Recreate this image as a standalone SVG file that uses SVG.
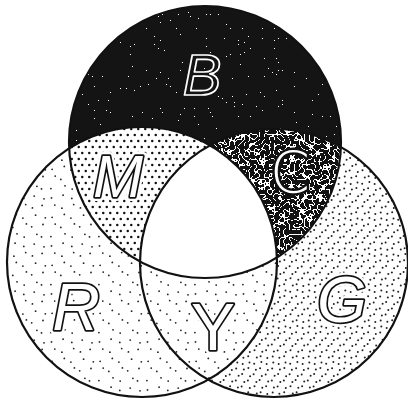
<svg xmlns="http://www.w3.org/2000/svg" width="408" height="403" viewBox="0 0 408 403">
<style>
.edge{fill:none;stroke:#111;stroke-width:2.2}
.lab{font-family:"Liberation Sans",Arial,sans-serif;text-anchor:middle}
.halo{fill:#fff;stroke:#fff;stroke-width:8;stroke-linejoin:round}
.out{fill:#fff;stroke:#111;stroke-width:3.4;stroke-linejoin:round;paint-order:stroke}
.wout{fill:none;stroke:#fff;stroke-width:1.7;stroke-linejoin:round}
.thin{fill:#fff;font-family:"DejaVu Sans","Liberation Sans",sans-serif;font-weight:200}
.bhalo{fill:#111;stroke:#111;stroke-width:5;stroke-linejoin:round;font-family:"DejaVu Sans","Liberation Sans",sans-serif;font-weight:200}
</style>
<defs>
<clipPath id="cR"><circle cx="142" cy="262" r="135"/></clipPath>
<clipPath id="cG"><circle cx="274" cy="263" r="134"/></clipPath>
<clipPath id="cB"><circle cx="205" cy="142" r="136"/></clipPath>
<pattern id="pR" width="48" height="48" patternUnits="userSpaceOnUse">
<rect width="48" height="48" fill="#fff"/>
<g fill="#222">
<circle cx="3.5" cy="5.9" r="0.9"/><circle cx="15.1" cy="3.2" r="0.9"/><circle cx="23.8" cy="6.4" r="0.9"/><circle cx="34.2" cy="4.1" r="0.9"/><circle cx="44" cy="6.8" r="0.9"/>
<circle cx="6.8" cy="13.1" r="0.9"/><circle cx="13.9" cy="16.2" r="0.9"/><circle cx="25.7" cy="12.6" r="0.9"/><circle cx="32.4" cy="15.9" r="0.9"/><circle cx="42.1" cy="13.4" r="0.9"/>
<circle cx="4.1" cy="25.3" r="0.9"/><circle cx="16.3" cy="22.4" r="0.9"/><circle cx="22.9" cy="26.1" r="0.9"/><circle cx="35.6" cy="23.2" r="0.9"/><circle cx="45.3" cy="25.8" r="0.9"/>
<circle cx="7.2" cy="32.1" r="0.9"/><circle cx="12.8" cy="35.4" r="0.9"/><circle cx="26.4" cy="31.9" r="0.9"/><circle cx="31.7" cy="34.8" r="0.9"/><circle cx="43" cy="32.5" r="0.9"/>
<circle cx="2.9" cy="44.6" r="0.9"/><circle cx="17" cy="41.8" r="0.9"/><circle cx="24.2" cy="45.1" r="0.9"/><circle cx="36.9" cy="42.3" r="0.9"/><circle cx="41.5" cy="44.9" r="0.9"/>
</g>
</pattern>
<pattern id="pG" width="36" height="36" patternUnits="userSpaceOnUse">
<rect width="36" height="36" fill="#fff"/>
<g fill="#222">
<circle cx="2.2" cy="3.8" r="1"/><circle cx="9.4" cy="2.1" r="1"/><circle cx="14.6" cy="4" r="1"/><circle cx="21.3" cy="2.6" r="1"/><circle cx="26.7" cy="3.9" r="1"/><circle cx="33.5" cy="2.4" r="1"/>
<circle cx="3.9" cy="9.7" r="1"/><circle cx="8.1" cy="8.2" r="1"/><circle cx="15.8" cy="10.1" r="1"/><circle cx="20.2" cy="8.6" r="1"/><circle cx="27.9" cy="9.4" r="1"/><circle cx="32.4" cy="8" r="1"/>
<circle cx="1.6" cy="14.3" r="1"/><circle cx="9.8" cy="15.9" r="1"/><circle cx="13.7" cy="14.4" r="1"/><circle cx="22.6" cy="15.7" r="1"/><circle cx="26.1" cy="14" r="1"/><circle cx="34.1" cy="16.2" r="1"/>
<circle cx="4.4" cy="21.9" r="1"/><circle cx="7.6" cy="20.1" r="1"/><circle cx="16.2" cy="21.6" r="1"/><circle cx="19.8" cy="20.4" r="1"/><circle cx="28.3" cy="22" r="1"/><circle cx="31.9" cy="20.6" r="1"/>
<circle cx="2.5" cy="26.3" r="1"/><circle cx="10.3" cy="27.8" r="1"/><circle cx="14.1" cy="26.2" r="1"/><circle cx="21.9" cy="27.5" r="1"/><circle cx="25.6" cy="26.6" r="1"/><circle cx="33.8" cy="27.9" r="1"/>
<circle cx="4.8" cy="33.6" r="1"/><circle cx="8.6" cy="32.2" r="1"/><circle cx="15.3" cy="33.9" r="1"/><circle cx="20.7" cy="32.4" r="1"/><circle cx="27.4" cy="33.8" r="1"/><circle cx="32.2" cy="32.3" r="1"/>
</g>
</pattern>
<pattern id="pM" width="7" height="12" patternUnits="userSpaceOnUse">
<rect width="7" height="12" fill="#fff"/>
<circle cx="1.75" cy="3" r="1.25" fill="#111"/><circle cx="5.25" cy="9" r="1.25" fill="#111"/>
</pattern>
<filter id="speck" filterUnits="userSpaceOnUse" x="60" y="0" width="290" height="290" color-interpolation-filters="sRGB">
<feTurbulence type="fractalNoise" baseFrequency="0.5" numOctaves="2" seed="11"/>
<feColorMatrix type="matrix" values="1 0 0 0 0 1 0 0 0 0 1 0 0 0 0 0 0 0 0 1"/>
<feComponentTransfer>
<feFuncR type="discrete" tableValues="0.08 0.08 0.08 0.08 0.08 0.08 0.08 0.08 0.08 0.08 0.08 0.08 0.08 0.08 0.08 0.08 0.08 0.08 0.08 0.08 0.08 0.08 0.08 0.08 0.08 0.08 0.08 0.08 0.08 0.08 0.08 0.08 0.08 0.08 0.08 0.08 0.08 0.08 1 1 1 1 1 1 1 1 1 1 1 1"/>
<feFuncG type="discrete" tableValues="0.08 0.08 0.08 0.08 0.08 0.08 0.08 0.08 0.08 0.08 0.08 0.08 0.08 0.08 0.08 0.08 0.08 0.08 0.08 0.08 0.08 0.08 0.08 0.08 0.08 0.08 0.08 0.08 0.08 0.08 0.08 0.08 0.08 0.08 0.08 0.08 0.08 0.08 1 1 1 1 1 1 1 1 1 1 1 1"/>
<feFuncB type="discrete" tableValues="0.08 0.08 0.08 0.08 0.08 0.08 0.08 0.08 0.08 0.08 0.08 0.08 0.08 0.08 0.08 0.08 0.08 0.08 0.08 0.08 0.08 0.08 0.08 0.08 0.08 0.08 0.08 0.08 0.08 0.08 0.08 0.08 0.08 0.08 0.08 0.08 0.08 0.08 1 1 1 1 1 1 1 1 1 1 1 1"/>
</feComponentTransfer>
</filter>
<filter id="maze" filterUnits="userSpaceOnUse" x="190" y="110" width="165" height="170" color-interpolation-filters="sRGB">
<feTurbulence type="fractalNoise" baseFrequency="0.2" numOctaves="1" seed="5"/>
<feColorMatrix type="matrix" values="1 0 0 0 0 1 0 0 0 0 1 0 0 0 0 0 0 0 0 1"/>
<feComponentTransfer>
<feFuncR type="discrete" tableValues="0.07 0.07 0.07 0.07 0.07 0.07 0.07 0.07 0.07 0.07 0.07 0.07 0.07 0.07 0.07 0.07 0.07 0.07 0.07 0.07 0.07 0.07 0.07 1 1 1 1 0.07 0.07 0.07 0.07 0.07 0.07 0.07 0.07 0.07 0.07 0.07 0.07 0.07 0.07 0.07 0.07 0.07 0.07 0.07 0.07 0.07 0.07 0.07"/>
<feFuncG type="discrete" tableValues="0.07 0.07 0.07 0.07 0.07 0.07 0.07 0.07 0.07 0.07 0.07 0.07 0.07 0.07 0.07 0.07 0.07 0.07 0.07 0.07 0.07 0.07 0.07 1 1 1 1 0.07 0.07 0.07 0.07 0.07 0.07 0.07 0.07 0.07 0.07 0.07 0.07 0.07 0.07 0.07 0.07 0.07 0.07 0.07 0.07 0.07 0.07 0.07"/>
<feFuncB type="discrete" tableValues="0.07 0.07 0.07 0.07 0.07 0.07 0.07 0.07 0.07 0.07 0.07 0.07 0.07 0.07 0.07 0.07 0.07 0.07 0.07 0.07 0.07 0.07 0.07 1 1 1 1 0.07 0.07 0.07 0.07 0.07 0.07 0.07 0.07 0.07 0.07 0.07 0.07 0.07 0.07 0.07 0.07 0.07 0.07 0.07 0.07 0.07 0.07 0.07"/>
</feComponentTransfer>
</filter>
</defs>
<rect width="408" height="403" fill="#fff"/>
<g id="R">
<circle cx="142" cy="262" r="135" fill="url(#pR)"/>
</g>
<g id="G">
<circle cx="274" cy="263" r="134" fill="url(#pG)"/>
</g>
<g id="Y" clip-path="url(#cR)">
<circle cx="274" cy="263" r="134" fill="url(#pR)"/>
</g>
<g id="B" clip-path="url(#cB)">
<rect x="60" y="0" width="290" height="290" filter="url(#speck)"/>
</g>
<g id="M" clip-path="url(#cR)">
<circle cx="205" cy="142" r="136" fill="url(#pM)"/>
</g>
<g id="C" clip-path="url(#cG)">
<g clip-path="url(#cB)">
<rect x="190" y="110" width="165" height="170" filter="url(#maze)"/>
</g>
</g>
<g id="W" clip-path="url(#cG)">
<circle cx="205" cy="142" r="136" clip-path="url(#cR)" fill="#fff"/>
</g>
<g id="outlines">
<circle class="edge" cx="205" cy="142" r="136"/>
<circle class="edge" cx="142" cy="262" r="135"/>
<circle class="edge" cx="274" cy="263" r="134"/>
</g>
<g id="labels" class="lab">
<text class="wout" x="202" y="95" font-size="58" font-style="italic">B</text>
<text class="bhalo" x="290" y="193" font-size="57" text-anchor="middle">C</text>
<text class="thin" x="290" y="193" font-size="57" text-anchor="middle">C</text>
<text class="halo" x="118" y="197" font-size="60" font-style="italic">M</text>
<text class="out" x="118" y="197" font-size="60" font-style="italic">M</text>
<text class="halo" x="76" y="330" font-size="66" font-style="italic">R</text>
<text class="out" x="76" y="330" font-size="66" font-style="italic">R</text>
<text class="halo" x="213" y="350" font-size="66">Y</text>
<text class="out" x="213" y="350" font-size="66">Y</text>
<text class="halo" x="342" y="322" font-size="64" font-style="italic">G</text>
<text class="out" x="342" y="322" font-size="64" font-style="italic">G</text>
</g>
</svg>
